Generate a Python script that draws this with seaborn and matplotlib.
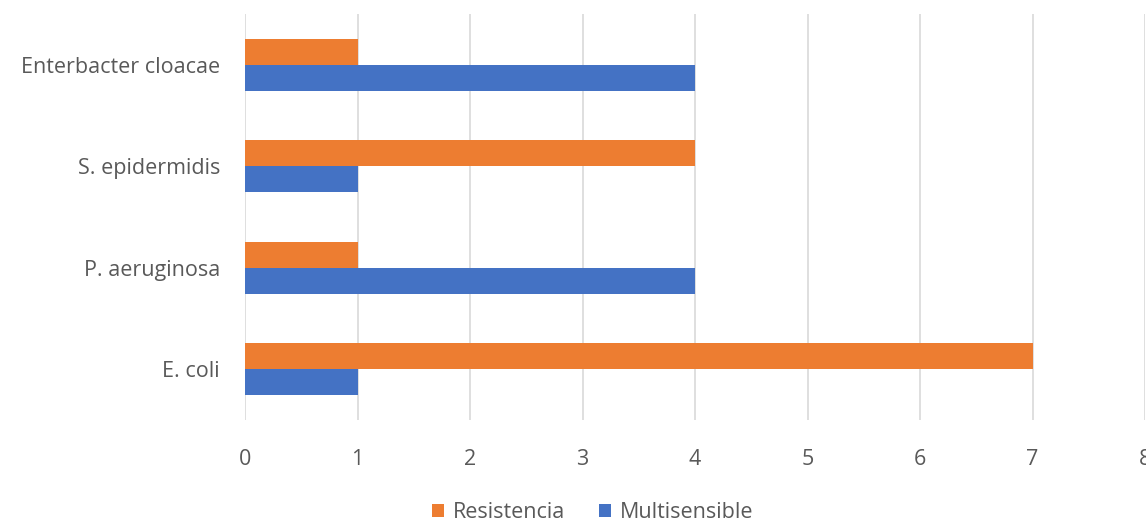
import matplotlib
matplotlib.use("Agg")
import matplotlib.pyplot as plt
import seaborn as sns
import pandas as pd

categories = ["Enterbacter cloacae", "S. epidermidis", "P. aeruginosa", "E. coli"]
resistencia = [1, 4, 1, 7]
multisensible = [4, 1, 4, 1]
series_names = ["Resistencia", "Multisensible"]
colors = ["#ED7D31", "#4472C4"]
x_ticks = [0, 1, 2, 3, 4, 5, 6, 7, 8]

df = pd.DataFrame({
    "organismo": categories * 2,
    "valor": resistencia + multisensible,
    "serie": [series_names[0]] * len(categories) + [series_names[1]] * len(categories),
})

sns.set_theme(style="white")
plt.rcParams["font.family"] = ["Open Sans", "DejaVu Sans"]

fig = plt.figure(figsize=(11.46, 5.25), dpi=100)
ax = fig.add_axes([245 / 1146, 0.2, 900 / 1146, 406 / 525])

sns.barplot(data=df, y="organismo", x="valor", hue="serie", order=categories,
            hue_order=series_names, palette=colors, width=0.51, orient="h",
            saturation=1, linewidth=0, ax=ax, legend=True)

ax.set_xlim(0, 8)
ax.set_xticks(x_ticks)
ax.set_xticklabels([str(t) for t in x_ticks])
ax.xaxis.grid(True, color="#d9d9d9", linewidth=1.2)
ax.set_axisbelow(True)
for s in ax.spines.values():
    s.set_visible(False)
ax.set_xlabel("")
ax.set_ylabel("")
ax.tick_params(axis="both", length=0, labelsize=15.5, colors="#595959")
ax.tick_params(axis="x", pad=21)
ax.tick_params(axis="y", pad=18)

handles, labels = ax.get_legend_handles_labels()
ax.legend(handles, labels, loc="lower center", bbox_to_anchor=(0.517, -0.013),
          bbox_transform=fig.transFigure, ncol=2, frameon=False, fontsize=15.5,
          handlelength=0.55, handleheight=0.55, handletextpad=0.4, columnspacing=1.6,
          labelcolor="#595959", borderaxespad=0.0)

fig.savefig("out.png", dpi=100)
